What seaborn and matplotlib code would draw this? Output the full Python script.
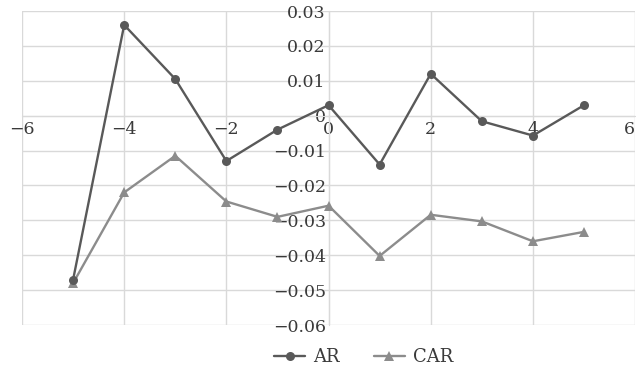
import numpy as np
import pandas as pd
import seaborn as sns
import matplotlib.pyplot as plt
from matplotlib.ticker import FixedLocator, FixedFormatter

# event window days and the two series
days = [-5, -4, -3, -2, -1, 0, 1, 2, 3, 4, 5]
ar = [-0.047, 0.026, 0.0105, -0.013, -0.004, 0.003, -0.014, 0.012, -0.0016, -0.0057, 0.003]
car = [-0.048, -0.022, -0.0115, -0.0246, -0.029, -0.0258, -0.0402, -0.0284, -0.0303, -0.036, -0.0333]

x_ticks = [-6, -4, -2, 0, 2, 4, 6]
x_labels = ['\u22126', '\u22124', '\u22122', '0', '2', '4', '6']
y_ticks = [-0.06, -0.05, -0.04, -0.03, -0.02, -0.01, 0, 0.01, 0.02, 0.03]
y_labels = ['\u22120.06', '\u22120.05', '\u22120.04', '\u22120.03', '\u22120.02',
            '\u22120.01', '0', '0.01', '0.02', '0.03']

sns.set_style('white')
plt.rcParams['font.family'] = ['DejaVu Serif']

df = pd.DataFrame({'day': days, 'AR': ar, 'CAR': car})

fig = plt.figure(figsize=(6.36, 3.72), dpi=100)
ax = fig.add_axes([0.0346, 0.1263, 0.964, 0.8441])

grid_col = '#d9d9d9'
text_col = '#3a3a3a'

sns.lineplot(data=df, x='day', y='AR', ax=ax, color='#595959', marker='o',
             markersize=6.5, markeredgewidth=0, linewidth=1.7, label='AR', zorder=4)
sns.lineplot(data=df, x='day', y='CAR', ax=ax, color='#8c8c8c', marker='^',
             markersize=7, markeredgewidth=0, linewidth=1.7, label='CAR', zorder=3)

ax.set_xlim(-6, 6)
ax.set_ylim(-0.06, 0.03)
ax.xaxis.set_major_locator(FixedLocator(x_ticks))
ax.xaxis.set_major_formatter(FixedFormatter(x_labels))
ax.yaxis.set_major_locator(FixedLocator(y_ticks))
ax.yaxis.set_major_formatter(FixedFormatter(y_labels))
ax.grid(True, color=grid_col, linewidth=1.0)
ax.set_axisbelow(True)

# axes crossing at the origin, drawn like grid lines
for side in ['top', 'right']:
    ax.spines[side].set_visible(False)
ax.spines['left'].set_position('zero')
ax.spines['bottom'].set_position('zero')
ax.spines['left'].set_color(grid_col)
ax.spines['bottom'].set_color(grid_col)
ax.tick_params(axis='both', length=0, labelsize=12.5, labelcolor=text_col)
ax.tick_params(axis='x', pad=4)
ax.tick_params(axis='y', pad=2)
ax.set_xlabel('')
ax.set_ylabel('')

# keep the last x label inside the figure
ax.get_xticklabels()[-1].set_horizontalalignment('right')

ax.legend_.remove()
h, l = ax.get_legend_handles_labels()
fig.legend(h, l, loc='center', bbox_to_anchor=(0.572, 0.04), ncol=2, frameon=False,
           fontsize=13, labelcolor=text_col, handlelength=1.7, handletextpad=0.45,
           columnspacing=1.9)

fig.savefig('out.png', dpi=100)
